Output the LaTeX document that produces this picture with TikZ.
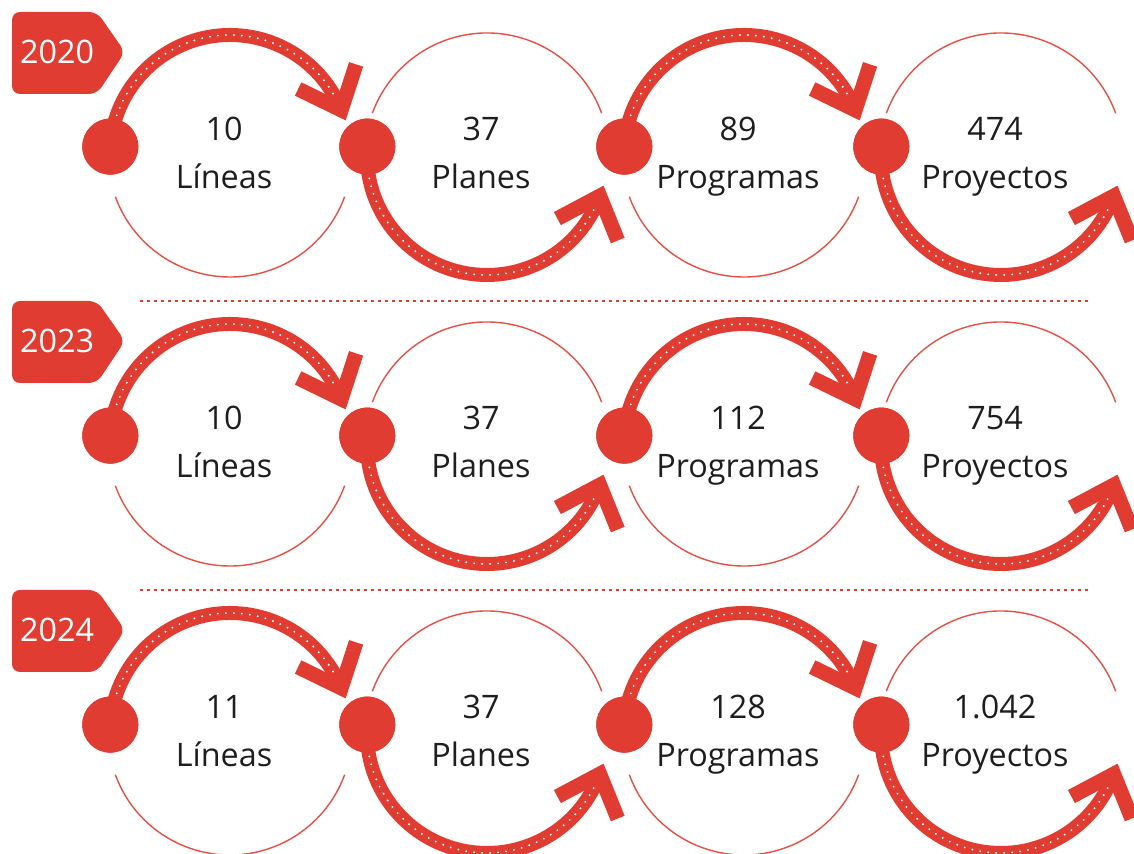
\documentclass[tikz,border=0pt]{standalone}
\usepackage{fontspec}
\setmainfont{Open Sans}
\usetikzlibrary{calc}

\definecolor{flowred}{HTML}{E03C31}
\definecolor{inkgray}{HTML}{1E1E1E}

\tikzset{
  thinring/.style={draw=flowred!90, line width=0.35mm},
  flowarc/.style={draw=flowred, line width=3.5mm},
  flowdots/.style={draw=white, line width=0.55mm, line cap=round, dash pattern=on 0pt off 2mm},
  chevron/.style={draw=flowred, line width=3.7mm, line join=miter},
  stopdot/.style={circle, fill=flowred, minimum size=14mm, inner sep=0pt},
  stagelabel/.style={align=center, text=inkgray, font=\fontsize{23}{34}\selectfont},
  yeartag/.style={fill=flowred, rounded corners=2mm},
  yeartext/.style={text=white, font=\fontsize{23}{28}\selectfont},
  rowrule/.style={draw=flowred, line width=0.7mm, dash pattern=on 0.7mm off 1.05mm},
}

\begin{document}
\begin{tikzpicture}[x=0.025cm, y=0.025cm]
  \useasboundingbox (0,0) rectangle (1134,854);
  % Sizes
  \pgfmathsetmacro{\rad}{120}
  \pgfmathsetmacro{\ringrad}{122}
  \pgfmathsetmacro{\barlen}{48}
  \pgfmathsetmacro{\starta}{176}

  % one row per year
  \foreach \year/\row/\na/\nb/\nc/\nd in {2020/0/10/37/89/474, 2023/1/10/37/112/754, 2024/2/11/37/128/1.042} {
    \pgfmathsetmacro{\cy}{699-289*\row}

    % year tag
    \path[yeartag] (12,\cy+143) -- (97,\cy+143) -- (125,\cy+103) -- (97,\cy+61) -- (12,\cy+61) -- cycle;
    \node[yeartext] (y\row) at (57,\cy+103) {\year};

    % stages
    \foreach \k/\num/\what in {0/\na/Líneas, 1/\nb/Planes, 2/\nc/Programas, 3/\nd/Proyectos} {
      \pgfmathsetmacro{\cx}{230+257*\k}
      \coordinate (c\row\k) at (\cx,\cy);
      \ifodd\k
        \def\ringa{20}\def\ringb{160}
        \def\ende{340}\def\barl{208}\def\barr{292}
      \else
        \def\ringa{200}\def\ringb{340}
        \def\ende{22}\def\barl{72}\def\barr{154}
      \fi

      % thin half ring
      \draw[thinring] (c\row\k) ++(\ringa:\ringrad) arc[start angle=\ringa, end angle=\ringb, radius=\ringrad];

      % vertices
      \node[stopdot] (d\row\k) at ($(c\row\k)+(\starta:\rad)$) {};
      \coordinate (p\row\k) at ($(c\row\k)+(\ende:\rad)$);

      % thick arrow
      \draw[flowarc] (d\row\k.center) arc[start angle=\starta, end angle=\ende, radius=\rad];
      \draw[flowdots] (d\row\k.center) arc[start angle=\starta, end angle=\ende, radius=\rad];
      \draw[chevron] (p\row\k) ++(\barl:\barlen) -- (p\row\k) -- ++(\barr:\barlen);
      \node[stopdot] at (d\row\k) {};

      % labels
      \node[stagelabel] (t\row\k) at (\cx-6,\cy-2) {\num\\\what\vphantom{gy}};
    }
  }

  % dotted rules between rows
  \foreach \row in {0,1} {
    \pgfmathsetmacro{\ry}{699-289*\row-146}
    \draw[rowrule] (140,\ry) -- (1092,\ry);
  }
\end{tikzpicture}
\end{document}
